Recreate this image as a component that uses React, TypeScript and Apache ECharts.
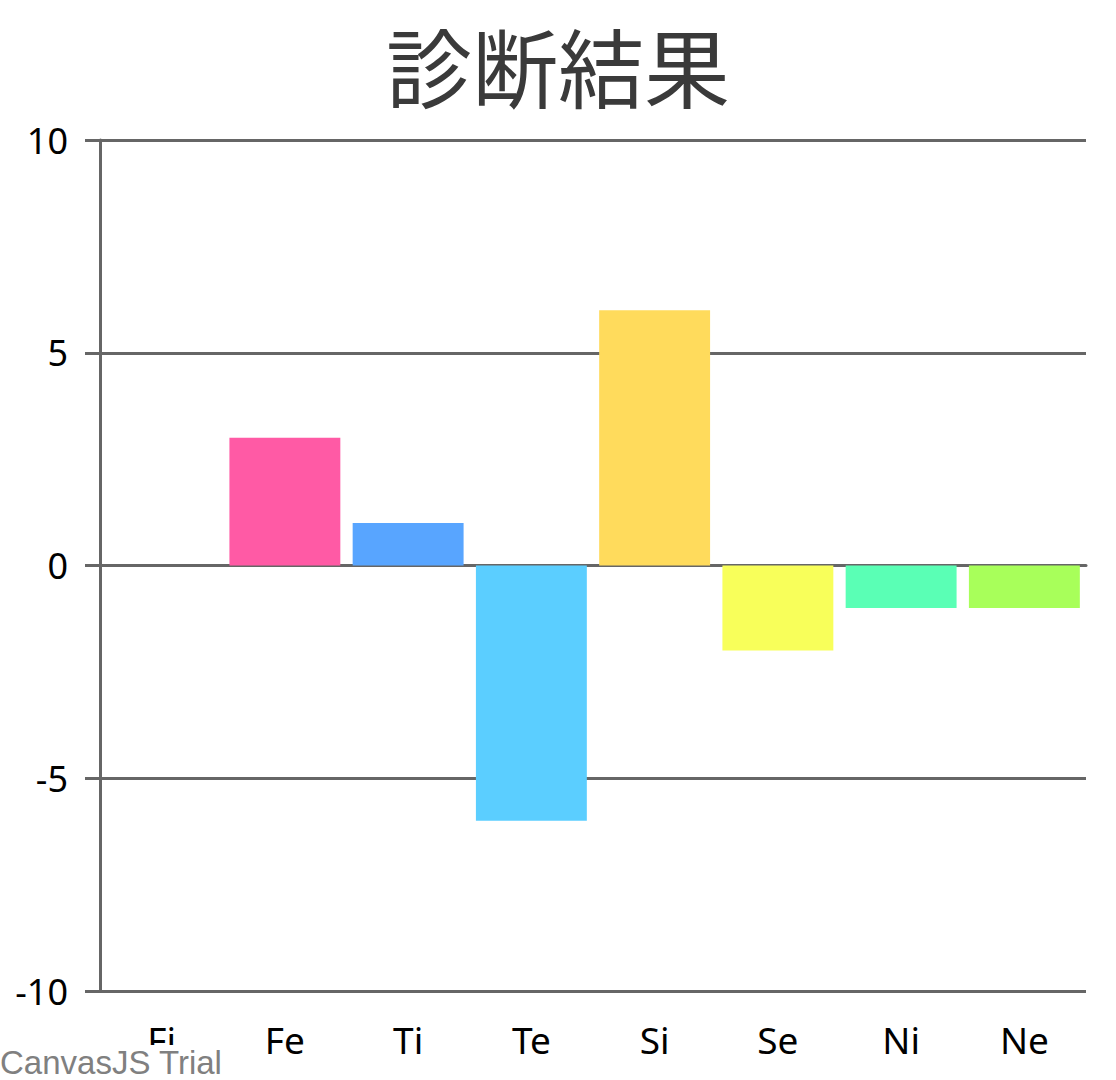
import { useRef, useEffect } from "react";
import * as echarts from "echarts";

const categories = ["Fi", "Fe", "Ti", "Te", "Si", "Se", "Ni", "Ne"];
const values = [0, 3, 1, -6, 6, -2, -1, -1];
const barColors = [
  "#FF5AA5",
  "#FF5AA5",
  "#58A5FF",
  "#5BCEFF",
  "#FFDB5C",
  "#F8FF5A",
  "#5AFFB5",
  "#A8FF5A",
];

const App = () => {
  const chartRef = useRef(null);

  useEffect(() => {
    document.body.style.margin = "0";
    if (chartRef.current) {
      const chart = echarts.init(chartRef.current, null, { renderer: "svg" });

      const option = {
        animation: false,
        title: {
          text: "診断結果",
          left: "center",
          top: 14,
          padding: 0,
          textStyle: {
            fontFamily: "Noto Sans CJK JP",
            fontSize: 86,
            lineHeight: 100,
            fontWeight: "normal",
            color: "#3a3a3a",
          },
        },
        grid: {
          left: 100,
          right: 30,
          top: 140,
          bottom: 89,
        },
        xAxis: {
          type: "category",
          data: categories,
          axisLine: {
            lineStyle: { color: "#666666", width: 3 },
          },
          axisTick: {
            alignWithLabel: true,
            length: 12,
            lineStyle: { color: "#666666", width: 3 },
          },
          axisLabel: {
            margin: 30,
            color: "#000000",
            fontFamily: "Noto Sans",
            fontSize: 37,
          },
        },
        yAxis: {
          type: "value",
          min: -10,
          max: 10,
          interval: 5,
          axisLine: {
            show: true,
            lineStyle: { color: "#666666", width: 3 },
          },
          axisTick: {
            show: true,
            length: 15,
            lineStyle: { color: "#666666", width: 3 },
          },
          axisLabel: {
            margin: 32,
            color: "#000000",
            fontFamily: "Noto Sans",
            fontSize: 36,
            padding: [6, 0, 0, 0],
          },
          splitLine: {
            lineStyle: { color: "#666666", width: 3 },
          },
        },
        series: [
          {
            type: "bar",
            data: values.map((v, i) => ({
              value: v,
              itemStyle: { color: barColors[i] },
            })),
            barCategoryGap: "10%",
          },
        ],
        graphic: [
          {
            type: "rect",
            left: 0,
            top: 1045,
            z: 100,
            shape: { width: 224, height: 35 },
            style: { fill: "#ffffff" },
          },
          {
            type: "text",
            left: 0,
            top: 1046,
            z: 101,
            style: {
              text: "CanvasJS Trial",
              fontFamily: "Liberation Sans",
              fontSize: 33,
              fill: "#808080",
            },
          },
        ],
      };

      chart.setOption(option);

      return () => {
        chart.dispose();
      };
    }
  }, []);

  return <div ref={chartRef} style={{ width: "1116px", height: "1080px" }} />;
};

export default App;
